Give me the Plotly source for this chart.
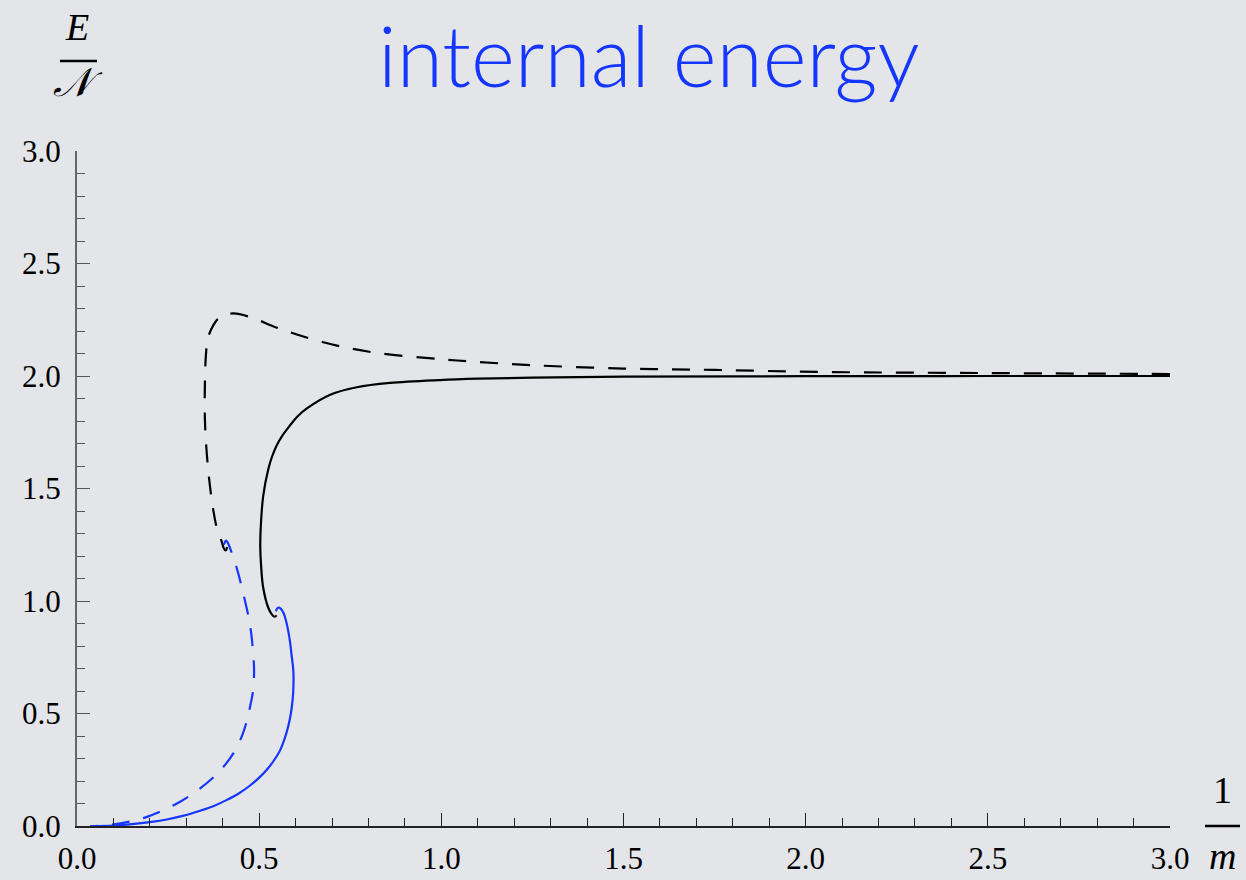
import plotly.graph_objects as go

# ---- data ----
black_solid_x = [3.0, 2.5, 2.0, 1.5, 1.25, 1.1, 0.996, 0.859, 0.768, 0.695, 0.631, 0.605, 0.585, 0.565, 0.548, 0.535, 0.525, 0.511, 0.504, 0.503, 0.505, 0.511, 0.525, 0.535, 0.543, 0.548]
black_solid_y = [2.0, 2.0, 1.999, 1.997, 1.993, 1.988, 1.982, 1.969, 1.95, 1.917, 1.856, 1.82, 1.781, 1.738, 1.691, 1.64, 1.586, 1.466, 1.316, 1.24, 1.165, 1.06, 0.97, 0.94, 0.93, 0.936]

black_dash_x = [3.0, 2.5, 2.05, 1.75, 1.5, 1.25, 1.088, 0.996, 0.813, 0.676, 0.557, 0.475, 0.429, 0.393, 0.374, 0.36, 0.354, 0.351, 0.351, 0.356, 0.365, 0.374, 0.383, 0.391, 0.397, 0.402, 0.406, 0.409, 0.412]
black_dash_y = [2.009, 2.013, 2.018, 2.027, 2.033, 2.048, 2.064, 2.075, 2.105, 2.15, 2.21, 2.262, 2.278, 2.262, 2.225, 2.172, 2.097, 1.962, 1.812, 1.66, 1.51, 1.405, 1.33, 1.295, 1.265, 1.238, 1.226, 1.226, 1.24]

blue_solid_x = [0.546, 0.549, 0.553, 0.559, 0.567, 0.574, 0.58, 0.585, 0.589, 0.592, 0.594, 0.594, 0.592, 0.587, 0.58, 0.57, 0.557, 0.54, 0.521, 0.5, 0.475, 0.447, 0.41, 0.374, 0.338, 0.29, 0.25, 0.2, 0.15, 0.1, 0.036]
blue_solid_y = [0.954, 0.966, 0.971, 0.966, 0.947, 0.91, 0.865, 0.815, 0.759, 0.72, 0.684, 0.62, 0.564, 0.5, 0.444, 0.388, 0.335, 0.29, 0.25, 0.215, 0.18, 0.148, 0.115, 0.088, 0.068, 0.045, 0.03, 0.017, 0.008, 0.002, 0.0]

blue_dash_x = [0.403, 0.406, 0.409, 0.413, 0.42, 0.438, 0.457, 0.475, 0.484, 0.486, 0.483, 0.475, 0.465, 0.452, 0.43, 0.402, 0.37, 0.338, 0.31, 0.283, 0.25, 0.215, 0.182, 0.14, 0.1, 0.05]
blue_dash_y = [1.25, 1.262, 1.268, 1.262, 1.235, 1.149, 1.029, 0.893, 0.759, 0.684, 0.6, 0.53, 0.46, 0.397, 0.325, 0.263, 0.21, 0.167, 0.135, 0.108, 0.08, 0.055, 0.035, 0.018, 0.007, 0.0]

x_ticks = [0.0, 0.5, 1.0, 1.5, 2.0, 2.5, 3.0]
x_tick_labels = ["0.0", "0.5", "1.0", "1.5", "2.0", "2.5", "3.0"]
y_ticks = [0.0, 0.5, 1.0, 1.5, 2.0, 2.5, 3.0]
y_tick_labels = ["0.0", "0.5", "1.0", "1.5", "2.0", "2.5", "3.0"]

title_text = "internal energy"

# ---- figure ----
W, H = 1246, 880
ML, MR, MT, MB = 77, 76, 151, 54
BG = "#e3e5e9"
BLUE = "#1436ff"
DASH = "18px,14px"

fig = go.Figure()
for xs, ys, col, dash in [
    (black_solid_x, black_solid_y, "black", "solid"),
    (black_dash_x, black_dash_y, "black", DASH),
    (blue_solid_x, blue_solid_y, BLUE, "solid"),
    (blue_dash_x, blue_dash_y, BLUE, DASH),
]:
    fig.add_trace(go.Scatter(x=xs, y=ys, mode="lines",
                             line=dict(color=col, width=2.2, dash=dash, shape="spline", smoothing=1.0),
                             showlegend=False, hoverinfo="skip"))

tickfont = dict(family="Liberation Serif, Times New Roman, serif", size=31, color="black")

fig.update_xaxes(range=[0, 3.0], showgrid=False, zeroline=False, automargin=False,
                 showline=True, linecolor="#222222", linewidth=1.5,
                 ticks="inside", ticklen=13, tickwidth=1.2, tickcolor="#222222",
                 tickvals=x_ticks, ticktext=x_tick_labels, tickfont=tickfont,
                 ticklabelstandoff=4,
                 minor=dict(dtick=0.1, ticks="inside", ticklen=8, tickwidth=1.2, tickcolor="#222222"))
fig.update_yaxes(range=[0, 3.0], showgrid=False, zeroline=False, automargin=False,
                 showline=True, linecolor="#666666", linewidth=2,
                 ticks="inside", ticklen=13, tickwidth=1.2, tickcolor="#555555",
                 tickvals=y_ticks, ticktext=y_tick_labels, tickfont=tickfont,
                 ticklabelstandoff=8,
                 minor=dict(dtick=0.1, ticks="inside", ticklen=8, tickwidth=1.2, tickcolor="#555555"))


def px(xp):
    return (xp - ML) / (W - ML - MR)


def py(yp):
    return (H - MB - yp) / (H - MT - MB)


serif = "Liberation Serif, Times New Roman, serif"
annots = [
    dict(text="<i>E</i>", x=px(77), y=py(27), size=38),
    dict(text="<i>𝒩</i>", x=px(78), y=py(82), size=40),
    dict(text="1", x=px(1222), y=py(790), size=38),
    dict(text="<i>m</i>", x=px(1222), y=py(856), size=38),
]
for a in annots:
    fig.add_annotation(text=a["text"], x=a["x"], y=a["y"], xref="paper", yref="paper",
                       showarrow=False, xanchor="center", yanchor="middle",
                       font=dict(family=serif, size=a["size"], color="black"))

fig.add_annotation(text=title_text, x=px(649), y=py(54), xref="paper", yref="paper",
                   showarrow=False, xanchor="center", yanchor="middle",
                   font=dict(family="Lato, Open Sans, sans-serif", size=84, color=BLUE, weight=300))

fig.add_shape(type="line", xref="paper", yref="paper", x0=px(60), x1=px(97), y0=py(61), y1=py(61),
              line=dict(color="black", width=2.5))
fig.add_shape(type="line", xref="paper", yref="paper", x0=px(1205), x1=px(1240), y0=py(826), y1=py(826),
              line=dict(color="black", width=2.5))

fig.update_layout(width=W, height=H, margin=dict(l=ML, r=MR, t=MT, b=MB),
                  paper_bgcolor=BG, plot_bgcolor=BG)

fig.write_html("out.html")
